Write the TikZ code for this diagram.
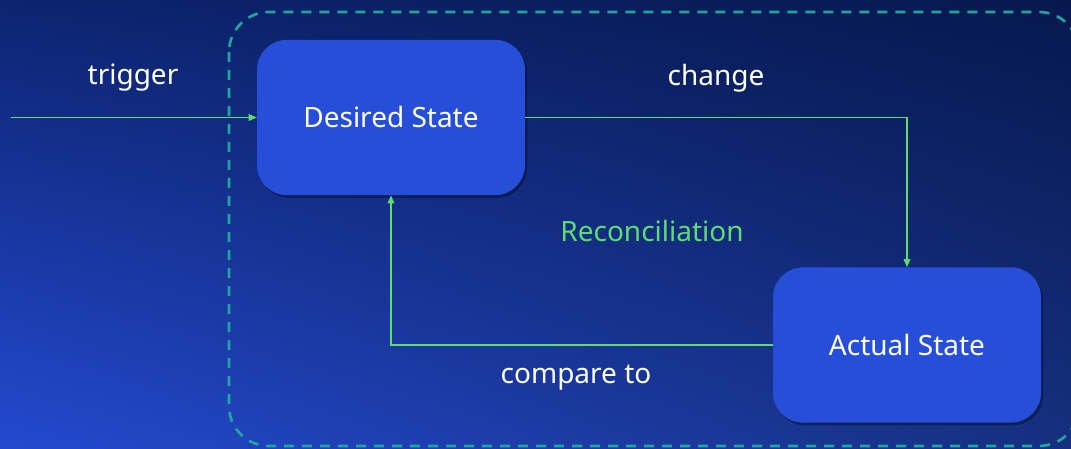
\documentclass[tikz,border=0pt]{standalone}
\usepackage{fontspec}
\setmainfont{Noto Sans}
\usetikzlibrary{arrows.meta,shadings,shadows}
\definecolor{bgUL}{HTML}{0C2470}
\definecolor{bgUR}{HTML}{07184E}
\definecolor{bgLL}{HTML}{2449D0}
\definecolor{bgLR}{HTML}{15307F}
\definecolor{boxblue}{HTML}{264ED8}
\definecolor{linegreen}{HTML}{5FDC70}
\definecolor{frameteal}{HTML}{1FA6A0}
\tikzset{
  statebox/.style={draw=none, fill=boxblue, rounded corners=22.5pt,
    minimum width=201pt, minimum height=116.5pt, text=white,
    font=\fontsize{21}{24}\selectfont, inner sep=0pt,
    drop shadow={shadow xshift=1.5pt, shadow yshift=-2pt, opacity=0.35, fill=black}},
  lbl/.style={text=white, font=\fontsize{21}{24}\selectfont, inner sep=0pt},
  arr/.style={draw=linegreen, line width=1.1pt, -{Triangle[length=6pt,width=5pt]}},
  frame/.style={draw=frameteal, line width=2pt, dash pattern=on 7.5pt off 6pt, rounded corners=30pt}
}
\begin{document}
\begin{tikzpicture}[x=0.75pt,y=-0.75pt]
\useasboundingbox (0,0) rectangle (1071,449);
\clip (0,0) rectangle (1071,449);
\shade[upper left=bgUL, upper right=bgUR, lower left=bgLL, lower right=bgLR] (0,0) rectangle (1071,449);
\draw[frame] (229,12) rectangle (1079,446);
\node[statebox] (ds) at (391,117.5) {Desired State};
\node[statebox] (as) at (907,345) {Actual State};
\coordinate (trig) at (11,117.5);
\draw[arr] (trig) -- (ds.west);
\draw[arr] (ds.east) -| (as.north);
\draw[arr] (as.west) -| (ds.south);
\node[lbl] (ltrig) at (133,78) {trigger};
\node[lbl] (lchange) at (716,78) {change};
\node[lbl] (lcomp) at (576,378) {compare to};
\node[lbl, text=linegreen] (lrec) at (652,231) {Reconciliation};
\end{tikzpicture}
\end{document}
